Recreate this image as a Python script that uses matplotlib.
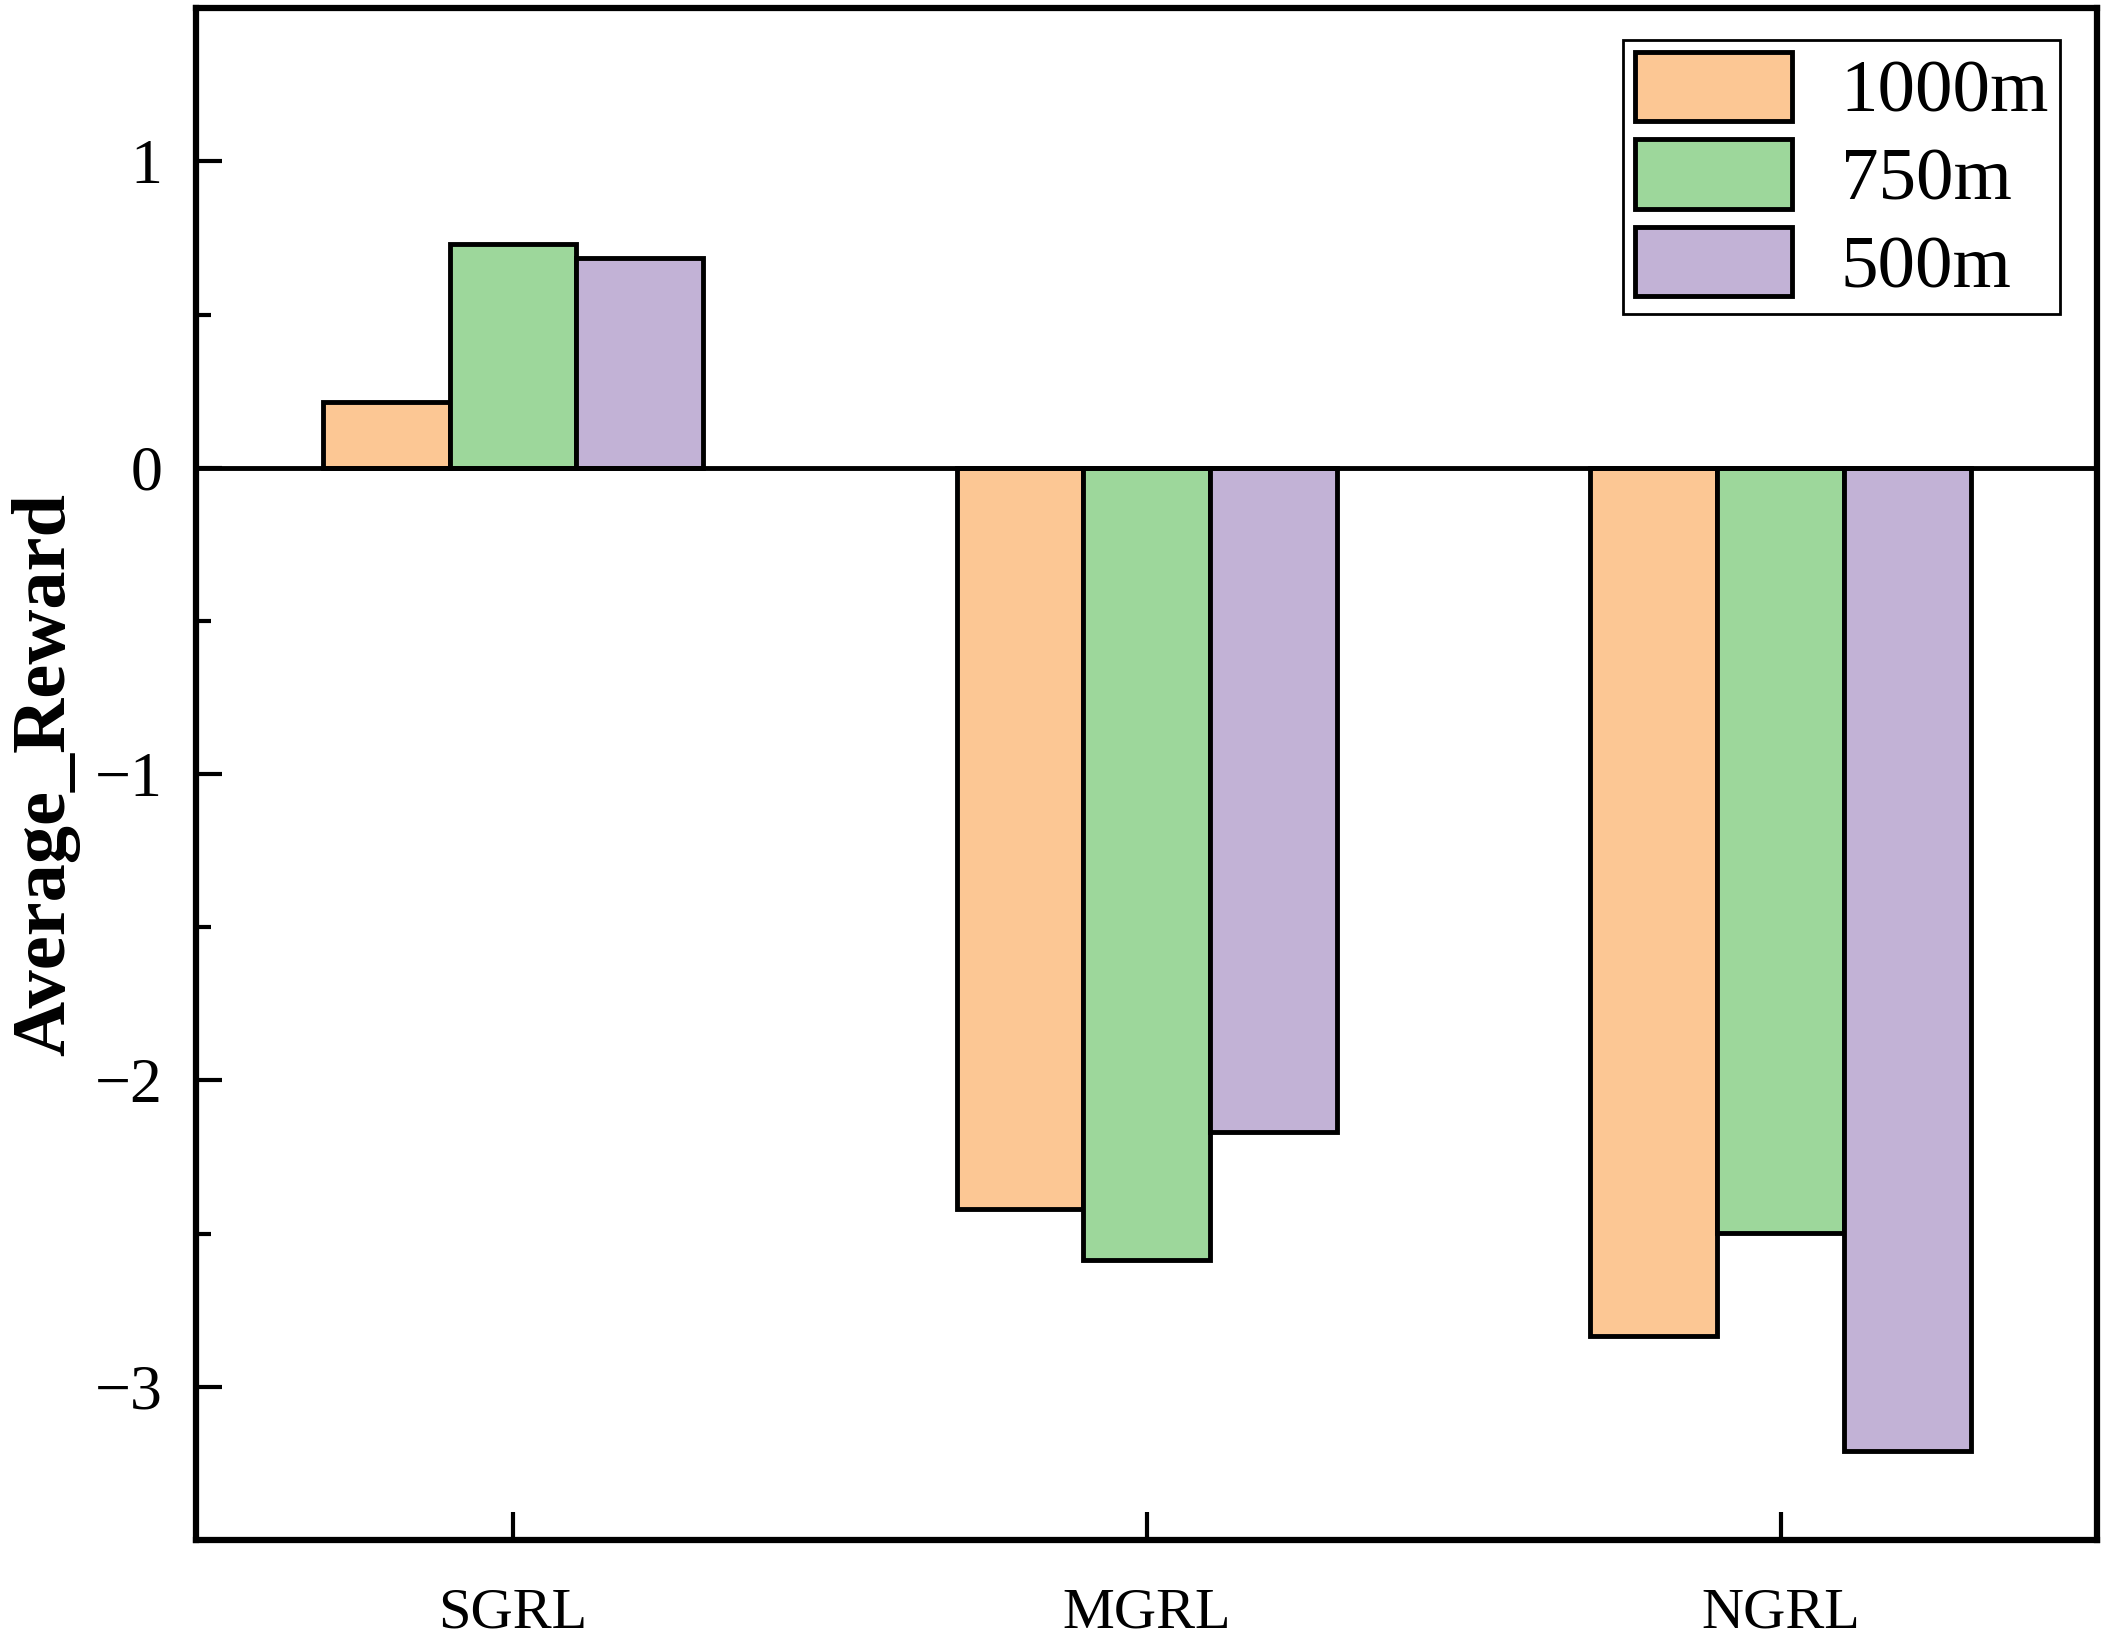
import numpy as np
import matplotlib
matplotlib.use("Agg")
from matplotlib import pyplot as plt
from matplotlib.ticker import MultipleLocator

methods = ["SGRL", "MGRL", "NGRL"]
series_names = ["1000m", "750m", "500m"]
reward_1000m = [0.216, -2.419, -2.833]
reward_750m = [0.731, -2.586, -2.498]
reward_500m = [0.683, -2.167, -3.211]
colors = ["#FCC794", "#9DD79B", "#C2B2D6"]

plt.rcParams['font.family'] = ['Liberation Serif', 'DejaVu Serif']

fig = plt.figure(figsize=(21.08, 16.41), dpi=100)
ax = fig.add_axes([0.093, 0.0616, 0.902, 0.9334])

x = np.arange(len(methods))
width = 0.2
all_series = [reward_1000m, reward_750m, reward_500m]
for i, vals in enumerate(all_series):
    ax.bar(x + (i - 1) * width, vals, width, color=colors[i],
           edgecolor="black", linewidth=3.5, label=series_names[i], zorder=2)

ax.axhline(0, color="black", linewidth=3.5, zorder=3)

ax.set_xlim(-0.5, 2.5)
ax.set_ylim(-3.5, 1.5)
ax.set_xticks(x, methods)
ax.yaxis.set_major_locator(MultipleLocator(1))
ax.yaxis.set_minor_locator(MultipleLocator(0.5))

for s in ax.spines.values():
    s.set_linewidth(4.5)

ax.tick_params(axis="y", which="major", direction="in", length=19, width=3,
               labelsize=46, pad=24)
ax.tick_params(axis="y", which="minor", direction="in", length=11, width=3)
ax.tick_params(axis="x", which="major", direction="in", length=20, width=3,
               labelsize=42, pad=34)

ax.set_ylabel("Average_Reward", fontsize=55, fontweight="bold")
ax.yaxis.set_label_coords(-0.061, 0.5)

leg = ax.legend(loc="upper right", bbox_to_anchor=(0.9805, 0.979), fontsize=54,
                handlelength=2.1, handleheight=1.05, labelspacing=0.15,
                handletextpad=0.65, borderpad=0.15, borderaxespad=0,
                fancybox=False, edgecolor="black", framealpha=1)
leg.get_frame().set_linewidth(2)
for h in leg.legend_handles:
    h.set_linewidth(3.5)

fig.savefig("out.png", dpi=100)
